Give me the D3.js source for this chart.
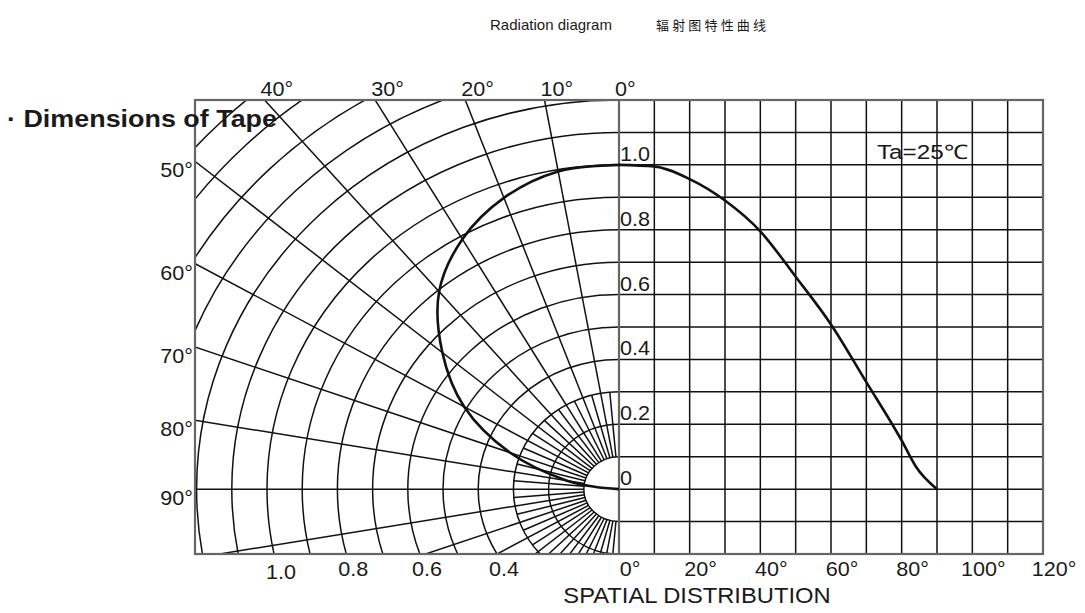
<!DOCTYPE html>
<meta charset="utf-8">
<style>

body {
  margin: 0;
  background: #fff;
}

text {
  font-family: Arial, "Liberation Sans", sans-serif;
  fill: #1a1a1a;
}

</style>
<body>
<script src="https://d3js.org/d3.v7.min.js"></script>
<script>

var width = 1085,
    height = 613;

// relative luminous intensity vs. off-axis angle (deg)
var angles = [0, 10, 20, 30, 40, 50, 60, 70, 80, 84, 90];
var intensity = [1.0, 0.995, 0.956, 0.89, 0.795, 0.655, 0.508, 0.33, 0.15, 0.07, 0];

// tick labels
var degreeTicks = [0, 20, 40, 60, 80, 100, 120];
var valueTicks = [0, 0.2, 0.4, 0.6, 0.8, 1.0];
var topAngleTicks = [40, 30, 20, 10, 0];
var sideAngleTicks = [50, 60, 70, 80, 90];
var radiusTicks = [1.0, 0.8, 0.6, 0.4];

var gLeft = 195, gTop = 100, gBottom = 554;

var x = d3.scaleLinear()
    .domain([0, 120])
    .range([619, 1043]);

var y = d3.scaleLinear()
    .domain([-0.2, 1.2])
    .range([gBottom, gTop]);

// the polar half is stretched sideways: horizontal radius per unit
var rx = d3.scaleLinear()
    .domain([0, 1])
    .range([0, 352]);

var cx = x(0),
    cy = y(0),
    rad = Math.PI / 180,
    stretch = 1.08;

function ry(v) { return cy - y(v); }

function polar(a, v) {
  return [cx - rx(v) * Math.sin(a * rad), cy - ry(v) * Math.cos(a * rad)];
}

function place(px, py) {
  return "translate(" + px + "," + py + ") scale(" + stretch + ",1)";
}

var svg = d3.select("body").append("svg")
    .attr("width", width)
    .attr("height", height);

svg.append("clipPath")
    .attr("id", "polar-clip")
  .append("rect")
    .attr("x", gLeft)
    .attr("y", gTop)
    .attr("width", cx - gLeft)
    .attr("height", gBottom - gTop);

var grid = svg.append("g")
    .attr("stroke", "#111")
    .attr("stroke-width", 1.5)
    .attr("fill", "none");

// right half: rectangular grid
grid.selectAll(".vline")
    .data(d3.range(10, 130, 10))
  .enter().append("line")
    .attr("x1", function(d) { return x(d); })
    .attr("x2", function(d) { return x(d); })
    .attr("y1", gTop)
    .attr("y2", gBottom);

grid.selectAll(".hline")
    .data(d3.range(-1, 12).map(function(k) { return k / 10; }))
  .enter().append("line")
    .attr("x1", cx)
    .attr("x2", x(120))
    .attr("y1", function(d) { return y(d); })
    .attr("y2", function(d) { return y(d); });

// left half: polar grid
var pg = grid.append("g")
    .attr("clip-path", "url(#polar-clip)");

pg.selectAll("ellipse")
    .data(d3.range(1, 17).map(function(k) { return k / 10; }))
  .enter().append("ellipse")
    .attr("cx", cx)
    .attr("cy", cy)
    .attr("rx", function(d) { return rx(d); })
    .attr("ry", function(d) { return ry(d); });

pg.selectAll(".spoke")
    .data(d3.range(10, 180, 10))
  .enter().append("line")
    .attr("x1", function(d) { return polar(d, 0.1)[0]; })
    .attr("y1", function(d) { return polar(d, 0.1)[1]; })
    .attr("x2", function(d) { return polar(d, 2)[0]; })
    .attr("y2", function(d) { return polar(d, 2)[1]; });

pg.selectAll(".minor")
    .data(d3.range(5, 180, 10))
  .enter().append("line")
    .attr("x1", function(d) { return polar(d, 0.1)[0]; })
    .attr("y1", function(d) { return polar(d, 0.1)[1]; })
    .attr("x2", function(d) { return polar(d, 0.3)[0]; })
    .attr("y2", function(d) { return polar(d, 0.3)[1]; });

// frame
var frame = svg.append("g")
    .attr("stroke", "#666")
    .attr("stroke-width", 2.2)
    .attr("fill", "none");

frame.append("rect")
    .attr("x", gLeft)
    .attr("y", gTop)
    .attr("width", x(120) - gLeft)
    .attr("height", gBottom - gTop);

frame.append("line")
    .attr("x1", cx).attr("x2", cx)
    .attr("y1", gTop).attr("y2", gBottom);

// curves
var pts = angles.map(function(a, i) { return [a, intensity[i]]; });

svg.append("path")
    .datum(pts)
    .attr("fill", "none")
    .attr("stroke", "#111")
    .attr("stroke-width", 2.6)
    .attr("d", d3.line()
        .x(function(d) { return x(d[0]); })
        .y(function(d) { return y(d[1]); })
        .curve(d3.curveMonotoneX));

svg.append("path")
    .datum(pts)
    .attr("fill", "none")
    .attr("stroke", "#111")
    .attr("stroke-width", 2.6)
    .attr("d", d3.line()
        .x(function(d) { return polar(d[0], d[1])[0]; })
        .y(function(d) { return polar(d[0], d[1])[1]; })
        .curve(d3.curveCatmullRom));

// labels
var labels = svg.append("g")
    .attr("font-size", 20);

labels.selectAll(".deg")
    .data(degreeTicks)
  .enter().append("text")
    .attr("transform", function(d) { return place(x(d) + 11, 576); })
    .attr("text-anchor", "middle")
    .text(function(d) { return d + "°"; });

labels.selectAll(".val")
    .data(valueTicks)
  .enter().append("text")
    .attr("transform", function(d) { return place(cx + 1, y(d) - 4); })
    .text(function(d) { return d === 0 ? "0" : d.toFixed(1); });

labels.selectAll(".topa")
    .data(topAngleTicks)
  .enter().append("text")
    .attr("transform", function(d) {
      var v = y.invert(cy - (cy - gTop) / Math.cos(d * rad));
      return place(polar(d, v)[0] - 4, gTop - 4);
    })
    .text(function(d) { return d + "°"; });

labels.selectAll(".side")
    .data(sideAngleTicks)
  .enter().append("text")
    .attr("transform", function(d) {
      var v = rx.invert((cx - gLeft) / Math.sin(d * rad));
      return place(gLeft - 2, polar(d, v)[1] + 16);
    })
    .attr("text-anchor", "end")
    .text(function(d) { return d + "°"; });

labels.selectAll(".rad")
    .data(radiusTicks)
  .enter().append("text")
    .attr("transform", function(d) {
      var k = (cy - gBottom) / ry(d);
      return place(cx - rx(d) * Math.sqrt(1 - k * k) - 8, d === 1 ? 579 : 576);
    })
    .text(function(d) { return d.toFixed(1); });

svg.append("text")
    .attr("x", 877)
    .attr("y", 159)
    .attr("font-size", 20)
    .attr("textLength", 91)
    .attr("lengthAdjust", "spacingAndGlyphs")
    .text("Ta=25℃");

svg.append("text")
    .attr("transform", place(697, 603))
    .attr("font-size", 22)
    .attr("text-anchor", "middle")
    .text("SPATIAL DISTRIBUTION");

svg.append("text")
    .attr("x", 490)
    .attr("y", 30)
    .attr("font-size", 15)
    .attr("textLength", 122)
    .attr("lengthAdjust", "spacingAndGlyphs")
    .text("Radiation diagram");

svg.append("text")
    .attr("x", 656)
    .attr("y", 30)
    .attr("font-size", 13)
    .attr("textLength", 110)
    .attr("lengthAdjust", "spacing")
    .style("font-family", "'Noto Sans CJK SC', sans-serif")
    .text("辐射图特性曲线");

svg.append("text")
    .attr("x", 7)
    .attr("y", 127)
    .attr("font-size", 23)
    .attr("font-weight", "bold")
    .attr("textLength", 270)
    .attr("lengthAdjust", "spacingAndGlyphs")
    .text("· Dimensions of Tape");

</script>
